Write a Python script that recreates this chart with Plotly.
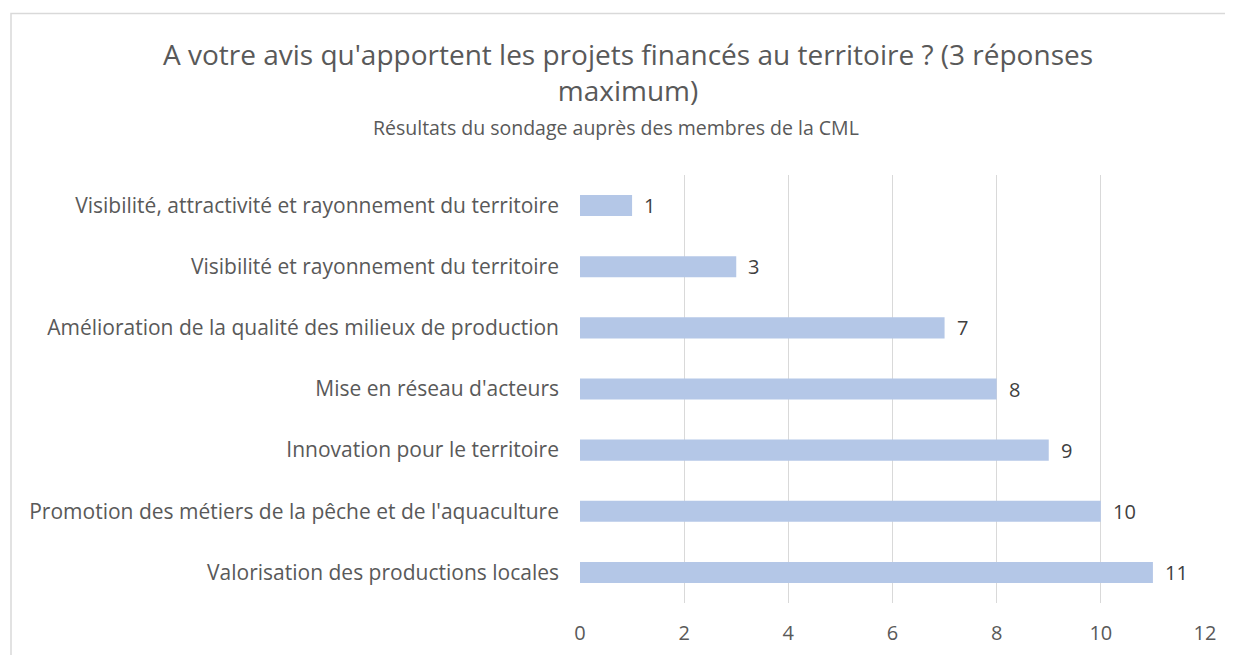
import plotly.graph_objects as go

# Données du sondage (ordre d'affichage, de haut en bas)
categories = [
    "Visibilité, attractivité et rayonnement du territoire",
    "Visibilité et rayonnement du territoire",
    "Amélioration de la qualité des milieux de production",
    "Mise en réseau d'acteurs",
    "Innovation pour le territoire",
    "Promotion des métiers de la pêche et de l'aquaculture",
    "Valorisation des productions locales",
]
reponses = [1, 3, 7, 8, 9, 10, 11]
x_ticks = [0, 2, 4, 6, 8, 10, 12]

titre = "A votre avis qu'apportent les projets financés au territoire ? (3 réponses<br>maximum)"
sous_titre = "Résultats du sondage auprès des membres de la CML"

FONT = "Open Sans"
GRIS = "#595959"

# la page HTML a une marge de 8 px : tout est décalé de 8 px
W, H = 1225, 647
L, R, T, B = 572, 28, 167, 52
PW, PH = W - L - R, H - T - B

fig = go.Figure()

fig.add_trace(go.Bar(
    x=reponses,
    y=categories,
    orientation='h',
    marker=dict(color='#B4C7E7', line=dict(width=0)),
    hoverinfo='x+y',
))

# Étiquettes de données à droite des barres
for cat, val in zip(categories, reponses):
    fig.add_annotation(
        x=val, y=cat, text=str(val),
        showarrow=False, xanchor='left', xshift=10,
        font=dict(family=FONT, size=20, color='#404040'),
    )

fig.add_annotation(
    text=sous_titre, xref='paper', yref='paper',
    x=(608 - L) / PW, y=(H - B - 119) / PH,
    showarrow=False, xanchor='center', yanchor='middle',
    font=dict(family=FONT, size=19.5, color=GRIS),
)

# Cadre du graphique
fig.add_shape(
    type='rect', xref='paper', yref='paper',
    x0=(3 - L) / PW, x1=(W + 20 - L) / PW,
    y0=(H - B - (H + 20)) / PH, y1=(H - B - 5.5) / PH,
    line=dict(color='#D9D9D9', width=1.5), layer='below',
)

fig.update_layout(
    width=W, height=H,
    title=dict(
        text=titre, x=620 / W, xanchor='center',
        y=1 - 57 / H, yanchor='top',
        font=dict(family=FONT, size=28, color=GRIS),
    ),
    xaxis=dict(
        range=[0, 12], tickvals=x_ticks,
        showgrid=True, gridcolor='#D9D9D9', gridwidth=1,
        zeroline=False, showline=False,
        tickfont=dict(family=FONT, size=20, color=GRIS),
        ticklabelstandoff=16,
        automargin=False,
        fixedrange=True,
    ),
    yaxis=dict(
        autorange='reversed',
        showgrid=False, showline=False,
        tickfont=dict(family=FONT, size=21, color=GRIS),
        ticklabelstandoff=20,
        automargin=False,
    ),
    bargap=0.655,
    plot_bgcolor='white', paper_bgcolor='white',
    margin=dict(l=L, r=R, t=T, b=B),
    showlegend=False,
)

fig.write_html("out.html")
